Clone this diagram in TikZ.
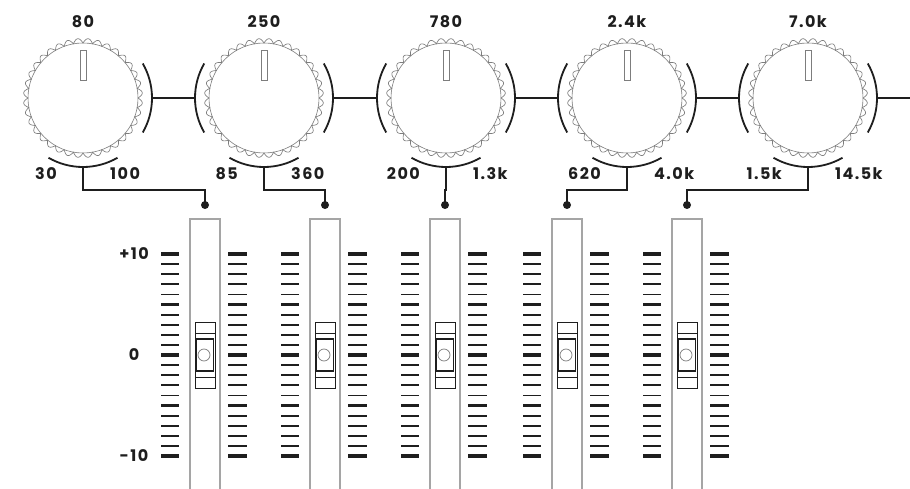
\documentclass[tikz,border=0pt]{standalone}
\usepackage{fontspec}
\setmainfont{Poppins}[LetterSpace=9]
\usetikzlibrary{calc}
\definecolor{knobgray}{RGB}{125,125,125}
\definecolor{trackgray}{RGB}{165,165,165}
\definecolor{ink}{RGB}{30,30,30}
\begin{document}
\begin{tikzpicture}[x=1pt,y=-1pt,
  lbl/.style={font=\fontsize{16}{19}\selectfont\bfseries, text=ink, inner sep=0pt},
  knobbody/.style={circle, draw=knobgray, line width=0.6pt, minimum size=110pt, inner sep=0pt},
  scallop/.style={draw=knobgray, line width=0.65pt},
  guard/.style={draw=ink, line width=1.8pt},
  wire/.style={draw=ink, line width=1.4pt},
  dotnode/.style={circle, fill=ink, inner sep=0pt, minimum size=8pt},
  track/.style={draw=trackgray, line width=1.1pt},
  capouter/.style={draw=ink, line width=0.7pt},
  capinner/.style={draw=ink, line width=1.3pt},
  capdot/.style={draw=knobgray, line width=0.7pt}
]
\fill[white] (0,0) rectangle (910,489);
\useasboundingbox (0,0) rectangle (910,489);

% faders
\foreach \f [count=\i] in {205,325,445,567,687}{
  \draw[track] (\f-15,219) rectangle (\f+15,500);
  \foreach \j in {0,...,20}{
    \pgfmathsetmacro{\yy}{254+\j*10.1}
    \ifnum\j=0 \def\lw{4pt}\else\ifnum\j=10 \def\lw{4pt}\else\ifnum\j=20 \def\lw{4pt}\else
      \ifnum\j=5 \def\lw{2.2pt}\else\ifnum\j=15 \def\lw{2.2pt}\else\def\lw{1.8pt}\fi\fi\fi\fi\fi
    \draw[ink, line width=\lw] (\f-44,\yy) -- (\f-26,\yy);
    \draw[ink, line width=\lw] (\f+23,\yy) -- (\f+42,\yy);
  }
  \draw[capouter, fill=white] (\f-10,322) rectangle (\f+10,388);
  \draw[capouter] (\f-10,333) -- (\f+10,333);
  \draw[capouter] (\f-10,377) -- (\f+10,377);
  \draw[capinner] (\f-8.5,339) rectangle (\f+8.5,371);
  \draw[capdot] (\f-1,355) circle[radius=6];
  \node[dotnode] (d\i) at (\f,205) {};
}

\node[lbl] (p10) at (134,254) {+10};
\node[lbl] (z0) at (134,355) {0};
\node[lbl] (m10) at (134,456) {-10};

% knobs
\foreach \x/\top/\lo/\hi [count=\i] in {83/80/30/100, 264/250/85/360, 446/780/200/1.3k, 627/2.4k/620/4.0k, 808/7.0k/1.5k/14.5k}{
  \node[knobbody] (k\i) at (\x,98) {};
  \draw[scallop, shift={(\x,98)}] plot[domain=0:360, samples=721] (\x:{55+4.5*abs(sin(18*\x))});
  \draw[draw=knobgray, line width=0.6pt] (\x-3,50) rectangle (\x+3,80);
  \node[lbl] (t\i) at (\x,22) {\top};
  \node[lbl, anchor=east] (lo\i) at (\x-26,174) {\lo};
  \node[lbl, anchor=west] (hi\i) at (\x+27,174) {\hi};
  \draw[guard] ($(k\i)+(60:69)$) arc[start angle=60, end angle=120, radius=69];
  \draw[guard] ($(k\i)+(-30:69)$) arc[start angle=-30, end angle=30, radius=69];
  \coordinate (b\i) at ($(k\i)+(0,69)$);
  \coordinate (r\i) at ($(k\i)+(69,0)$);
  \coordinate (l\i) at ($(k\i)+(-69,0)$);
  \ifnum\i>1
    \draw[guard] ($(k\i)+(150:69)$) arc[start angle=150, end angle=210, radius=69];
  \fi
}
\coordinate (edge) at (910,98);

\foreach \i in {1,...,5}{
  \draw[wire] (b\i) -- ($(b\i)+(0,23)$) -| (d\i.center);
}
\draw[wire] (r1) -- (l2);
\draw[wire] (r2) -- (l3);
\draw[wire] (r3) -- (l4);
\draw[wire] (r4) -- (l5);
\draw[wire] (r5) -- (edge);
\end{tikzpicture}
\end{document}
